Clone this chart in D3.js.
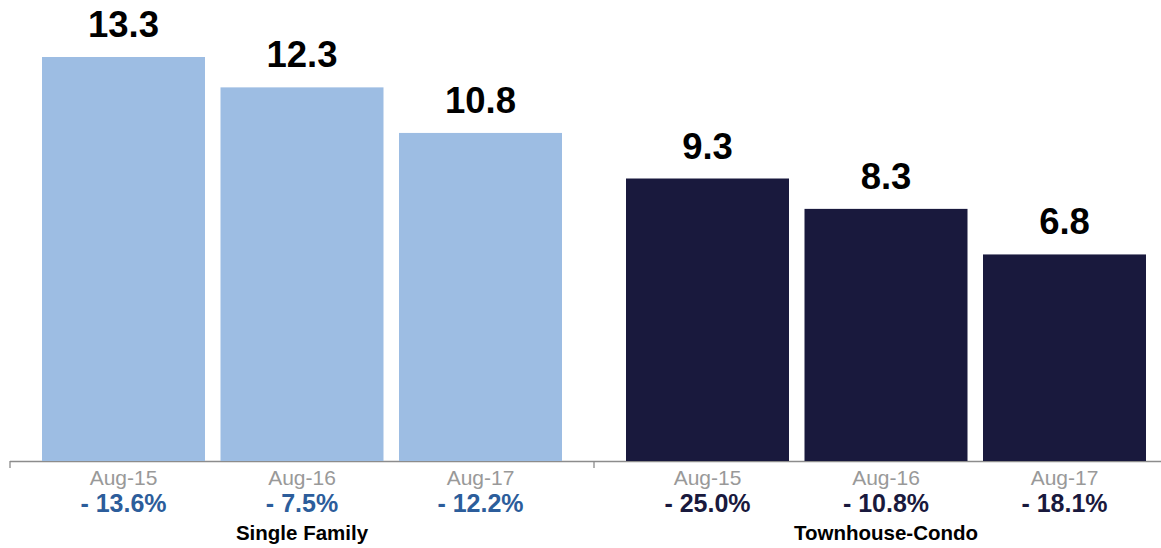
<!DOCTYPE html>
<html>
<head>
<meta charset="utf-8">
<script src="https://cdn.jsdelivr.net/npm/d3@7"></script>
<style>
  html, body { margin: 0; padding: 0; background: #fff; }
  svg text { font-family: "Liberation Sans", Arial, Helvetica, sans-serif; }
</style>
</head>
<body>
<svg id="chart" width="1161" height="548"></svg>
<script>
const groups = ["Single Family", "Townhouse-Condo"];
const periods = ["Aug-15", "Aug-16", "Aug-17"];
const singleFamily = [13.3, 12.3, 10.8];
const townhouseCondo = [9.3, 8.3, 6.8];
const singleFamilyChange = ["- 13.6%", "- 7.5%", "- 12.2%"];
const townhouseCondoChange = ["- 25.0%", "- 10.8%", "- 18.1%"];
const groupColors = ["#9dbde3", "#19193d"];
const changeColors = ["#2c5d9b", "#19193d"];

const values = [singleFamily, townhouseCondo];
const changes = [singleFamilyChange, townhouseCondoChange];

const W = 1161, H = 548;
const baseY = 461;
const svg = d3.select("#chart");

const x0 = d3.scaleBand()
  .domain(groups)
  .range([10, 1178])
  .paddingInner(48.5 / 584)
  .paddingOuter(24.25 / 584);

const x1 = d3.scaleBand()
  .domain(periods)
  .range([0, x0.bandwidth()])
  .paddingInner(15.5 / 178.5)
  .paddingOuter(7.75 / 178.5);

const y = d3.scaleLinear().domain([0, 13.3]).range([baseY, 57]);

// axis line and ticks at group boundaries
const boundaries = [x0.range()[0]].concat(groups.map(g => x0(g) + x0.bandwidth() + x0.step() * x0.paddingInner() / 2));
svg.append("line")
  .attr("x1", boundaries[0]).attr("x2", W)
  .attr("y1", baseY + 0.5).attr("y2", baseY + 0.5)
  .attr("stroke", "#8c8c8c").attr("stroke-width", 1.3);
svg.selectAll("line.tick").data(boundaries).join("line")
  .attr("class", "tick")
  .attr("x1", d => d).attr("x2", d => d)
  .attr("y1", baseY).attr("y2", baseY + 7)
  .attr("stroke", "#8c8c8c").attr("stroke-width", 1.3);

groups.forEach((g, gi) => {
  const gEl = svg.append("g").attr("transform", `translate(${x0(g)},0)`);
  const data = periods.map((p, i) => ({ p, v: values[gi][i], c: changes[gi][i] }));

  gEl.selectAll("rect").data(data).join("rect")
    .attr("x", d => x1(d.p))
    .attr("width", x1.bandwidth())
    .attr("y", d => y(d.v))
    .attr("height", d => baseY - y(d.v))
    .attr("fill", groupColors[gi]);

  gEl.selectAll("text.val").data(data).join("text")
    .attr("class", "val")
    .attr("x", d => x1(d.p) + x1.bandwidth() / 2)
    .attr("y", d => y(d.v) - 20)
    .attr("text-anchor", "middle")
    .attr("font-size", 36.5)
    .attr("font-weight", "bold")
    .attr("fill", "#000")
    .text(d => d.v.toFixed(1));

  gEl.selectAll("text.cat").data(data).join("text")
    .attr("class", "cat")
    .attr("x", d => x1(d.p) + x1.bandwidth() / 2)
    .attr("y", 485)
    .attr("text-anchor", "middle")
    .attr("font-size", 21)
    .attr("fill", "#999999")
    .text(d => d.p);

  gEl.selectAll("text.chg").data(data).join("text")
    .attr("class", "chg")
    .attr("x", d => x1(d.p) + x1.bandwidth() / 2)
    .attr("y", 512)
    .attr("text-anchor", "middle")
    .attr("font-size", 25)
    .attr("font-weight", "bold")
    .attr("fill", changeColors[gi])
    .text(d => d.c);

  gEl.append("text")
    .attr("x", x0.bandwidth() / 2)
    .attr("y", 540)
    .attr("text-anchor", "middle")
    .attr("font-size", 20.5)
    .attr("font-weight", "bold")
    .attr("fill", "#000")
    .text(g);
});
</script>
</body>
</html>
